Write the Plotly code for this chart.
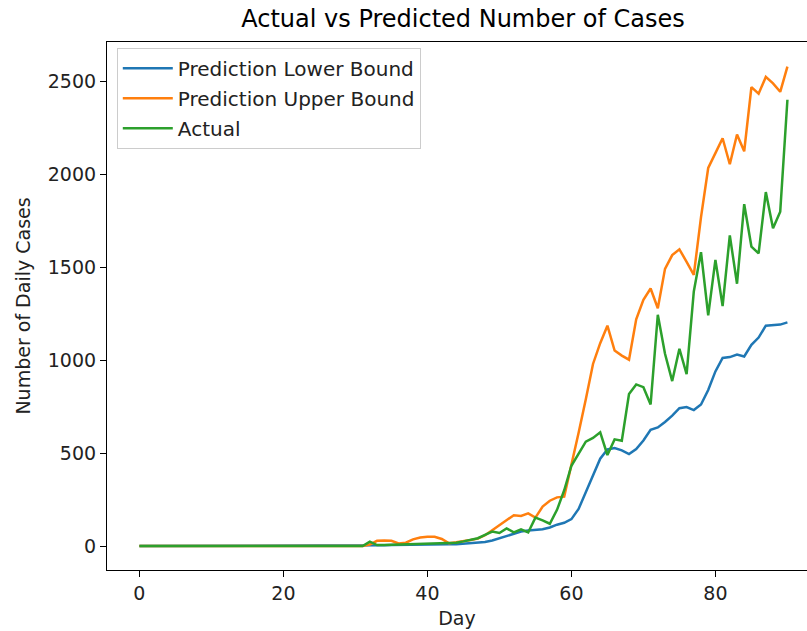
import plotly.graph_objects as go

days = list(range(91))

lower_bound = [0]*32 + [
    2, 3, 4, 5, 6, 7, 8, 9, 10, 12, 12, 10, 10, 12, 15, 18, 22, 30, 42, 55,
    68, 78, 84, 86, 90, 100, 115, 125, 145, 200, 290, 390, 470, 520, 528, 515, 495, 522, 568, 625,
    638, 668, 702, 742, 748, 732, 762, 840, 940, 1012, 1017, 1031, 1020, 1083, 1122, 1186, 1190, 1192, 1204]

upper_bound = [0]*32 + [
    8, 28, 30, 28, 14, 18, 36, 46, 50, 50, 38, 15, 20, 25, 32, 40, 58, 85, 112, 140,
    166, 162, 176, 153, 212, 244, 262, 266, 430, 610, 790, 980, 1092, 1186, 1052, 1025, 1003, 1220, 1325, 1386,
    1280, 1492, 1566, 1597, 1530, 1460, 1770, 2035, 2115, 2195, 2055, 2215, 2125, 2470, 2435, 2525, 2490, 2445, 2580]

actual = [0]*32 + [
    24, 5, 6, 7, 8, 8, 10, 12, 14, 14, 15, 15, 18, 25, 32, 42, 60, 78, 70, 95,
    74, 90, 73, 153, 138, 120, 195, 300, 432, 500, 562, 582, 612, 490, 574, 567, 818, 870, 855, 762,
    1245, 1035, 888, 1062, 925, 1370, 1582, 1242, 1540, 1292, 1672, 1412, 1840, 1612, 1575, 1905, 1710, 1800, 2402]

x_ticks = [0, 20, 40, 60, 80]
y_ticks = [0, 500, 1000, 1500, 2000, 2500]

FONT = "DejaVu Sans"
FS = 19
fig = go.Figure()
fig.add_trace(go.Scatter(x=days, y=lower_bound, mode="lines", name="Prediction Lower Bound",
                         legendgroup="a", line=dict(color="#1f77b4", width=2.5)))
fig.add_trace(go.Scatter(x=days, y=upper_bound, mode="lines", name="Prediction Upper Bound",
                         legendgroup="b", line=dict(color="#ff7f0e", width=2.5)))
fig.add_trace(go.Scatter(x=days, y=actual, mode="lines", name="Actual",
                         legendgroup="c", line=dict(color="#2ca02c", width=2.5)))

fig.update_layout(
    width=807, height=631,
    margin=dict(l=107, r=0, t=42, b=61),
    paper_bgcolor="white", plot_bgcolor="white",
    font=dict(family=FONT, size=FS, color="#222222"),
    title=dict(text="Actual vs Predicted Number of Cases", x=463/807, xref="container",
               xanchor="center", y=0.971, yref="container", yanchor="middle",
               font=dict(size=24, color="black")),
    showlegend=True,
    legend=dict(x=0.014, y=0.989, xanchor="left", yanchor="top",
                bgcolor="rgba(255,255,255,0.8)", bordercolor="#cccccc", borderwidth=1,
                font=dict(size=20, color="#222222"), tracegroupgap=1, itemwidth=50),
    xaxis=dict(range=[-4.5, 92.72], tickvals=x_ticks, ticks="outside", ticklen=6, tickwidth=1.2,
               tickcolor="black", showline=True, linecolor="black", linewidth=1.2, mirror=True,
               showgrid=False, zeroline=False, tickfont=dict(size=FS),
               title=dict(text="Day", font=dict(size=FS), standoff=8)),
    yaxis=dict(range=[-129, 2713], tickvals=y_ticks, ticks="outside", ticklen=6, tickwidth=1.2,
               tickcolor="black", showline=True, linecolor="black", linewidth=1.2,
               showgrid=False, zeroline=False, tickfont=dict(size=FS),
               title=dict(text="Number of Daily Cases", font=dict(size=FS), standoff=12)),
)

fig.write_html("out.html")
